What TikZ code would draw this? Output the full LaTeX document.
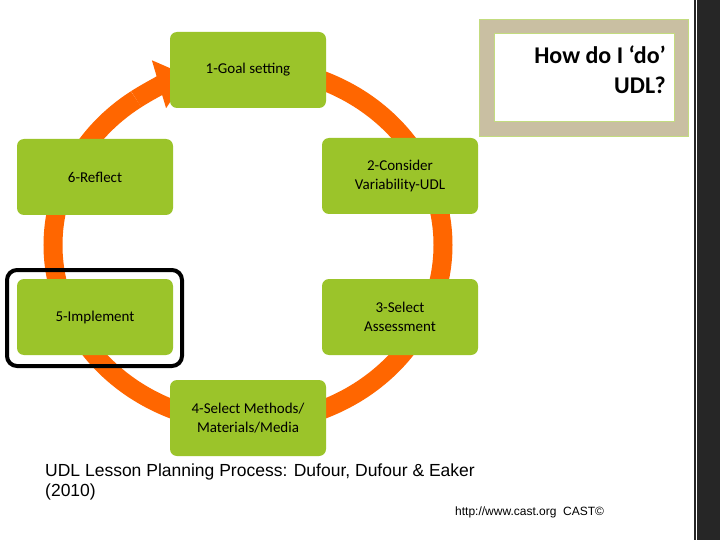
\documentclass[tikz,border=0pt]{standalone}
\usepackage{fontspec}
\setmainfont{Carlito}
\newfontfamily\arial{Liberation Sans}
\usetikzlibrary{arrows.meta}
\definecolor{boxgreen}{HTML}{9BC42A}
\definecolor{ring}{HTML}{FF6600}
\definecolor{tan}{HTML}{C9BFA2}
\tikzset{stepbox/.style={fill=boxgreen,rounded corners=7pt,minimum width=156pt,minimum height=76pt,align=center,font=\fontsize{15pt}{19pt}\selectfont,inner sep=2pt}}
\begin{document}
\begin{tikzpicture}[x=1pt,y=-1pt]
\useasboundingbox (0,0) rectangle (720,540);
\fill[white] (0,0) rectangle (720,540);
\fill[black!85] (694,0) rectangle (720,540);
\draw[white,line width=1pt] (696,0) -- (696,540);
% ring
\draw[ring,line width=19pt] (248,245) ++(-90:195 and 178) arc[start angle=-90,end angle=235,x radius=195,y radius=178];
\draw[ring,line width=19pt,-{Triangle[width=48pt,length=30pt]}] (248,245) ++(235:195 and 178) arc[start angle=235,end angle=252,x radius=195,y radius=178];
% boxes
\node[stepbox] (n1) at (248,70) {1-Goal setting};
\node[stepbox] (n2) at (400,176) {2-Consider\\Variability-UDL};
\node[stepbox] (n3) at (400,317) {3-Select\\Assessment};
\node[stepbox] (n4) at (248,418) {4-Select Methods/\\Materials/Media};
\node[stepbox] (n5) at (95,317) {5-Implement};
\node[stepbox] (n6) at (95,177) {6-Reflect};
\draw[line width=4pt,rounded corners=10pt] (7,270) rectangle (182,366);
% title
\node[fill=tan,draw=boxgreen!60,minimum width=209pt,minimum height=117pt] (tb) at (583.5,77.5) {};
\node[fill=white,draw=boxgreen!60,minimum width=180pt,minimum height=88pt] (tw) at (584,77) {};
\node[anchor=north east,align=right,font=\bfseries\fontsize{24pt}{30pt}\selectfont,inner sep=0pt] (tt) at (666,46) {How do I ‘do’\\UDL?};
% caption
\node[anchor=north west,align=left,font=\arial\fontsize{17.5pt}{20pt}\selectfont,inner sep=0pt] (cap) at (45,464) {UDL Lesson Planning Process: Dufour, Dufour \& Eaker\\(2010)};
\node[anchor=north west,font=\arial\fontsize{12pt}{13pt}\selectfont,inner sep=0pt] (url) at (455,507) {http://www.cast.org\ \ CAST©};
\end{tikzpicture}
\end{document}
